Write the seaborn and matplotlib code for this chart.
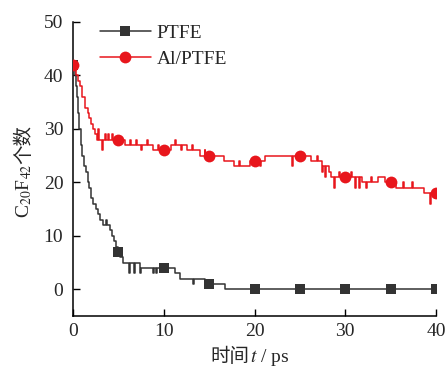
import numpy as np
import matplotlib
matplotlib.use("Agg")
import matplotlib.pyplot as plt
from matplotlib.lines import Line2D
import seaborn as sns

# ---------------- data ----------------
ptfe_t = [0, 0.2, 0.3, 0.4, 0.55, 0.7, 0.85, 1.0, 1.2, 1.4, 1.6, 1.8, 2.0, 2.2,
          2.5, 2.8, 3.0, 3.3, 3.6, 3.7, 4.1, 4.3, 4.5, 4.7, 5.0, 5.2, 5.5,
          6.2, 6.3, 6.7, 6.8, 7.4, 7.5, 8.8, 8.9, 9.2, 9.3, 10.0, 11.2, 11.8,
          13.2, 13.3, 14.5, 15.0, 16.7, 20, 25, 30, 35, 40]
ptfe_y = [42, 40, 38, 36, 33, 30, 27, 25, 23, 22, 20, 19, 17, 16,
          15, 14, 13, 12, 13, 12, 11, 10, 9, 8, 7, 6, 5,
          3, 5, 3, 5, 3, 4, 3, 4, 3, 4, 4, 3, 2,
          1, 2, 1, 1, 0, 0, 0, 0, 0, 0]

alptfe_t = [0, 0.3, 0.5, 0.8, 1.0, 1.3, 1.6, 1.8, 2.0, 2.2, 2.4, 2.6, 2.8, 2.9,
            3.2, 3.3, 3.5, 3.6, 3.9, 4.0, 4.3, 4.4, 5.0, 5.7, 6.3, 6.4, 6.9,
            7.0, 7.5, 7.6, 8.2, 8.3, 8.8, 9.4, 9.5, 10.0, 10.8, 11.2, 11.3,
            11.9, 12.0, 12.6, 13.1, 13.2, 14.0, 14.5, 14.6, 15.0, 16.0, 16.6,
            17.7, 18.3, 18.4, 19.5, 20.0, 20.6, 20.7, 21.2, 24.1, 24.2, 25.0,
            26.2, 26.9, 27.0, 27.4, 27.6, 27.8, 27.9, 28.2, 28.4, 28.8, 28.9,
            29.3, 29.4, 30.0, 30.6, 30.7, 31.1, 31.2, 31.5, 31.6, 31.9, 32.3,
            32.4, 32.8, 32.9, 33.6, 34.4, 35.0, 35.6, 36.4, 36.5, 37.4, 37.5,
            38.7, 39.3, 39.4, 39.9, 40.0]
alptfe_y = [42, 40, 39, 38, 36, 34, 33, 32, 31, 30, 29, 28, 30, 28,
            26, 28, 29, 28, 29, 28, 29, 28, 28, 27, 28, 27, 28,
            27, 26, 27, 28, 27, 26, 27, 26, 26, 27, 28, 27,
            26, 27, 26, 27, 26, 25, 26, 25, 25, 25, 24,
            23, 24, 23, 24, 24, 23, 24, 25, 23, 25, 25,
            24, 25, 24, 22, 23, 21, 23, 22, 21, 19, 21,
            22, 21, 21, 22, 21, 19, 21, 19, 21, 20, 19,
            20, 21, 20, 21, 20, 20, 19, 20, 19, 20, 19,
            18, 16, 18, 17, 18]

marker_times = [0, 5, 10, 15, 20, 25, 30, 35, 40]
series_labels = ["PTFE", "Al/PTFE"]
x_ticks = [0, 10, 20, 30, 40]
y_ticks = [0, 10, 20, 30, 40, 50]

# ---------------- style ----------------
sns.set_style("ticks")
plt.rcParams["font.family"] = ["Liberation Serif", "Noto Sans CJK SC"]
plt.rcParams["mathtext.fontset"] = "stix"

black = "#333333"
red = "#e8161c"
fs = 14

fig = plt.figure(figsize=(4.48, 3.71), dpi=100)
W, H = 448, 371
ax = fig.add_axes([73 / W, 1 - 316 / H, 363 / W, 294 / H])

def mk_idx(t):
    return [i for i, v in enumerate(t) if v in marker_times]

sns.lineplot(x=ptfe_t, y=ptfe_y, ax=ax, estimator=None, sort=False,
             color=black, lw=1.1, drawstyle="steps-post",
             marker="s", markersize=7.5, markeredgewidth=0,
             markevery=mk_idx(ptfe_t), zorder=2)
sns.lineplot(x=alptfe_t, y=alptfe_y, ax=ax, estimator=None, sort=False,
             color=red, lw=1.1, drawstyle="steps-post",
             marker="o", markersize=8.5, markeredgewidth=0,
             markevery=mk_idx(alptfe_t), zorder=3)

ax.set_xlim(0, 40)
ax.set_ylim(-5, 50)
ax.set_xticks(x_ticks)
ax.set_yticks(y_ticks)
ax.set_xticklabels([str(v) for v in x_ticks], fontsize=fs)
ax.set_yticklabels([str(v) for v in y_ticks], fontsize=fs)
ax.tick_params(direction="in", length=5, width=1, color="black", pad=5)
ax.tick_params(axis="y", pad=7)
for s in ["top", "right"]:
    ax.spines[s].set_visible(False)
for s in ["left", "bottom"]:
    ax.spines[s].set_color("black")
    ax.spines[s].set_linewidth(1.1)
ax.set_xlabel("")
ax.set_ylabel("")

handles = [
    Line2D([], [], color=black, lw=1.1, marker="s", markersize=7.5,
           markeredgewidth=0),
    Line2D([], [], color=red, lw=1.1, marker="o", markersize=8.5,
           markeredgewidth=0),
]
ax.legend(handles, series_labels, loc="upper left",
          bbox_to_anchor=((100 - 73) / 363, (316 - 24) / 294),
          frameon=False, fontsize=fs, handlelength=2.6, handletextpad=0.3,
          labelspacing=0.45, borderpad=0, borderaxespad=0)

# x label: CJK part + math part
fig.text(249 / W, 1 - 357 / H, "时间", fontsize=fs, ha="right", va="center",
         family=["Noto Sans CJK SC", "DejaVu Sans"])
fig.text(250 / W, 1 - 357 / H, "$t$ / ps", fontsize=fs, ha="left", va="center",
         family=["Liberation Serif", "DejaVu Sans"])

# y label: formula part + CJK part
t1 = fig.text(24 / W, 1 - 218 / H, "C$_{20}$F$_{42}$", fontsize=fs,
              rotation=90, ha="center", va="bottom",
              family=["Liberation Serif", "DejaVu Sans"])
fig.canvas.draw()
bb = t1.get_window_extent(renderer=fig.canvas.get_renderer())
fig.text(24 / W, bb.y1 / (H), "个数", fontsize=fs, rotation=90,
         ha="center", va="bottom",
         family=["Noto Sans CJK SC", "DejaVu Sans"])

fig.savefig("out.png", dpi=100)
